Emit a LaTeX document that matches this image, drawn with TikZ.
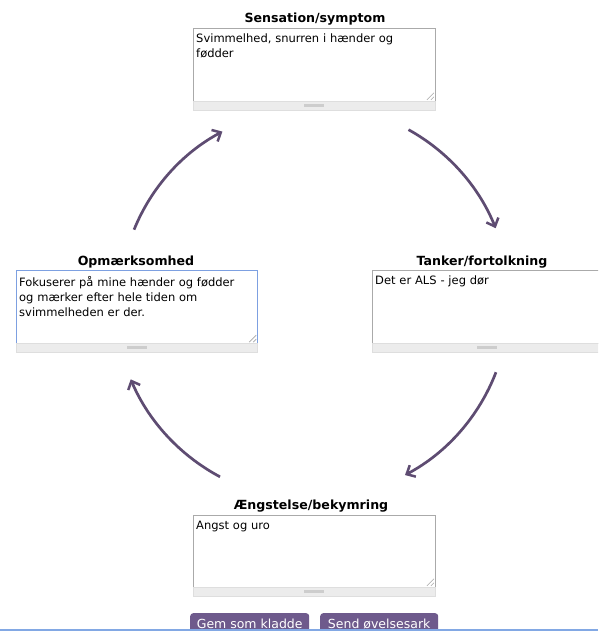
\documentclass[tikz,border=0pt]{standalone}
\usepackage{fontspec}
\setmainfont{DejaVu Sans}
\newfontfamily\ttlfont{DejaVu Sans}
\usetikzlibrary{arrows.meta,calc}
\definecolor{boxgray}{RGB}{170,170,170}
\definecolor{bargray}{RGB}{236,236,236}
\definecolor{barline}{RGB}{222,222,222}
\definecolor{handlegray}{RGB}{205,205,205}
\definecolor{focusblue}{RGB}{125,160,225}
\definecolor{arrowpurple}{RGB}{94,76,114}
\definecolor{btnpurple}{RGB}{110,90,140}
\definecolor{linebl}{RGB}{130,168,228}
\tikzset{
  x=1pt, y=1pt,
  tbox/.style={draw=boxgray, fill=white, line width=0.9pt, rectangle, anchor=north west, inner sep=0pt, minimum height=73pt},
  tbar/.style={draw=barline, fill=bargray, line width=0.5pt, rectangle, anchor=north west, inner sep=0pt, minimum height=9pt},
  thandle/.style={fill=handlegray, rectangle, inner sep=0pt, minimum width=20pt, minimum height=3pt},
  ttext/.style={anchor=north west, inner sep=0pt, align=left, font=\fontsize{11.5}{15}\selectfont, text=black},
  ttitle/.style={inner sep=0pt, font=\ttlfont\bfseries\fontsize{12.6}{14}\selectfont, text=black},
  cyc/.style={draw=arrowpurple, line width=2.7pt, -{Straight Barb[length=7pt,width=13pt,line width=2.5pt]}},
  btn/.style={fill=btnpurple, rounded corners=3pt},
  btntext/.style={anchor=base, inner sep=0pt, text=white, font=\fontsize{12.5}{15}\selectfont},
  grip/.style={draw=gray!70, line width=0.6pt}
}
\begin{document}
\begin{tikzpicture}
\useasboundingbox (0,0) rectangle (598,631);
\clip (0,0) rectangle (598,631);
\fill[white] (0,0) rectangle (598,631);

% ---- top: Sensation/symptom
\node[ttitle] (sensT) at (315,612) {Sensation/symptom};
\node[tbox, minimum width=242pt] (sens) at (193,603) {};
\node[tbar, minimum width=242pt] (sensB) at (193,530) {};
\node[thandle] (sensH) at (sensB.center) {};
\node[ttext, text width=236pt] (sensX) at ($(sens.north west)+(3,-6)$) {Svimmelhed, snurren i hænder og\\fødder};
\draw[grip] ($(sens.south east)+(-9,2)$) -- ($(sens.south east)+(-2,9)$);
\draw[grip] ($(sens.south east)+(-5,2)$) -- ($(sens.south east)+(-2,5)$);

% ---- left: Opmærksomhed
\node[ttitle] (opmT) at (136,369) {Opmærksomhed};
\node[tbox, draw=focusblue, line width=1.2pt, minimum width=241pt] (opm) at (16,361) {};
\node[tbar, minimum width=241pt] (opmB) at (16,288) {};
\node[thandle] (opmH) at (opmB.center) {};
\node[ttext, text width=236pt] (opmX) at ($(opm.north west)+(3,-6)$) {Fokuserer på mine hænder og fødder\\og mærker efter hele tiden om\\svimmelheden er der.};
\draw[grip] ($(opm.south east)+(-9,2)$) -- ($(opm.south east)+(-2,9)$);
\draw[grip] ($(opm.south east)+(-5,2)$) -- ($(opm.south east)+(-2,5)$);

% ---- right: Tanker/fortolkning
\node[ttitle] (tankT) at (482,369) {Tanker/fortolkning};
\node[tbox, minimum width=240pt] (tank) at (372,361) {};
\node[tbar, minimum width=240pt] (tankB) at (372,288) {};
\node[thandle] (tankH) at (487,283.5) {};
\node[ttext, text width=220pt] (tankX) at ($(tank.north west)+(3,-6)$) {Det er ALS - jeg dør};

% ---- bottom: Ængstelse/bekymring
\node[ttitle] (aengT) at (311,125) {Ængstelse/bekymring};
\node[tbox, minimum width=242pt, minimum height=72pt] (aeng) at (193,116) {};
\node[tbar, minimum width=242pt] (aengB) at (193,44) {};
\node[thandle] (aengH) at (aengB.center) {};
\node[ttext, text width=236pt] (aengX) at ($(aeng.north west)+(3,-6)$) {Angst og uro};
\draw[grip] ($(aeng.south east)+(-9,2)$) -- ($(aeng.south east)+(-2,9)$);
\draw[grip] ($(aeng.south east)+(-5,2)$) -- ($(aeng.south east)+(-2,5)$);

% ---- cycle arrows
\coordinate (ctr) at (313,329);
\coordinate (a1) at ($(ctr)+(158:193)$);
\coordinate (a2) at ($(ctr)+(61:197)$);
\coordinate (a3) at ($(ctr)+(-21:196)$);
\coordinate (a4) at ($(ctr)+(-118:198)$);
\draw[cyc] (a1) arc[start angle=158, end angle=118, radius=193];
\draw[cyc] (a2) arc[start angle=61, end angle=22, radius=197];
\draw[cyc] (a3) arc[start angle=-21, end angle=-62, radius=196];
\draw[cyc] (a4) arc[start angle=-118, end angle=-157, radius=198];

% ---- buttons
\node[btn, rectangle, minimum width=119pt, minimum height=30pt, anchor=north west, inner sep=0pt] (gem) at (190,18) {};
\node[btntext] (gemX) at ($(gem.north)+(0,-16)$) {Gem som kladde};
\node[btn, rectangle, minimum width=118pt, minimum height=30pt, anchor=north west, inner sep=0pt] (send) at (320,18) {};
\node[btntext] (sendX) at ($(send.north)+(0,-16)$) {Send øvelsesark};

% ---- bottom line
\fill[linebl] (0,0) rectangle (598,2);
\end{tikzpicture}
\end{document}
